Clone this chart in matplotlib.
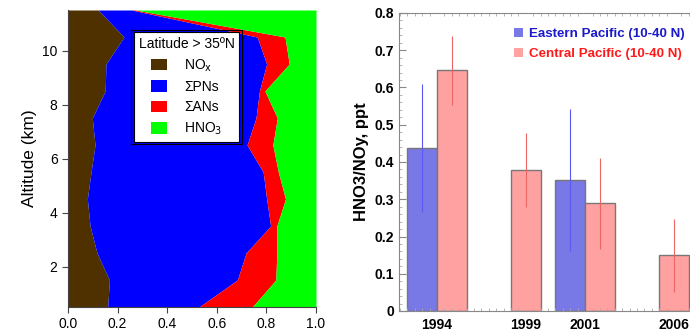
import numpy as np
import matplotlib.pyplot as plt
from matplotlib.patches import Patch, Rectangle
from matplotlib.ticker import MultipleLocator

plt.rcParams['font.family'] = ['Liberation Sans', 'DejaVu Sans']

# NOy partitioning profile, latitude > 35N (fractions of NOy)
altitude = [0.5, 1.5, 2.5, 3.5, 4.5, 5.5, 6.5, 7.5, 8.5, 9.5, 10.5, 11.5]
nox  = [0.160, 0.167, 0.117, 0.089, 0.078, 0.093, 0.109, 0.098, 0.150, 0.153, 0.226, 0.122]
pans = [0.368, 0.516, 0.601, 0.728, 0.723, 0.694, 0.613, 0.660, 0.622, 0.648, 0.537, 0.135]
ans  = [0.215, 0.155, 0.124, 0.025, 0.076, 0.061, 0.104, 0.086, 0.022, 0.091, 0.112, 0.015]
hno3 = [0.257, 0.162, 0.158, 0.158, 0.123, 0.152, 0.174, 0.156, 0.206, 0.108, 0.125, 0.728]

species = ['NO$_\\mathrm{x}$', '\u03a3PNs', '\u03a3ANs', 'HNO$_\\mathrm{3}$']
species_colors = ['#4f3100', '#0000ff', '#ff0000', '#00ff00']

# HNO3/NOy ratio by campaign year
years = ['1994', '1999', '2001', '2006']
eastern = [0.437, None, 0.352, None]
eastern_err = [0.172, None, 0.190, None]
central = [0.646, 0.378, 0.289, 0.149]
central_err = [0.092, 0.100, 0.122, 0.099]

fig = plt.figure(figsize=(6.9, 3.31), dpi=100)

# ---- left: stacked profile ----
ax1 = fig.add_axes([68/690, 24/331, 248/690, 297/331])
alt = np.array(altitude)
left = np.zeros(len(alt))
for vals, col in zip([nox, pans, ans, hno3], species_colors):
    right = left + np.array(vals)
    ax1.fill_betweenx(alt, left, right, color=col, lw=0)
    left = right
ax1.set_xlim(0, 1)
ax1.set_ylim(0.5, 11.5)
ax1.set_xticks(np.arange(0, 1.01, 0.2))
ax1.set_xticklabels(['%.1f' % v for v in np.arange(0, 1.01, 0.2)])
ax1.set_yticks([2, 4, 6, 8, 10])
ax1.tick_params(direction='out', length=4, color='#444444', labelsize=10)
for s in ['top', 'right']:
    ax1.spines[s].set_visible(False)
for s in ['left', 'bottom']:
    ax1.spines[s].set_color('#444444')
ax1.set_ylabel('Altitude (km)', fontsize=12.5)

handles = [Patch(facecolor=c, edgecolor='none') for c in species_colors]
leg = ax1.legend(handles, species, title='Latitude > 35\u00baN', loc='upper left',
                 bbox_to_anchor=(0.265, 0.925), fontsize=10, title_fontsize=10,
                 frameon=True, fancybox=False, framealpha=1, edgecolor='black',
                 handlelength=1.2, handleheight=0.9, handletextpad=1.2,
                 labelspacing=0.45, borderpad=0.35, borderaxespad=0)
leg.get_frame().set_linewidth(0.8)
leg._legend_box.align = 'center'
fig.canvas.draw()
bb = leg.get_window_extent().transformed(fig.transFigure.inverted())
pad = 2.5 / 690
fig.patches.append(Rectangle((bb.x0 - pad, bb.y0 - pad * 690 / 331),
                             bb.width + 2 * pad, bb.height + 2 * pad * 690 / 331,
                             transform=fig.transFigure, fill=False,
                             edgecolor='black', lw=0.8, zorder=10))

# ---- right: bar chart ----
ax2 = fig.add_axes([399/690, 20/331, 291/690, 298/331])
w = 0.5
year_pos = [0, 1.5, 2.5, 4.0]
east_col = (0.47, 0.47, 0.9)
cent_col = (1.0, 0.63, 0.63)
for i, x in enumerate(year_pos):
    if eastern[i] is not None:
        xe, xc = x - w / 2, x + w / 2
        ax2.bar(xe, eastern[i], width=w, color=east_col, edgecolor='#777777', lw=1)
        ax2.errorbar(xe, eastern[i], yerr=eastern_err[i], fmt='none',
                     ecolor=(0.35, 0.35, 0.95), elinewidth=0.8, capsize=0)
    else:
        xc = x
    ax2.bar(xc, central[i], width=w, color=cent_col, edgecolor='#777777', lw=1)
    ax2.errorbar(xc, central[i], yerr=central_err[i], fmt='none',
                 ecolor=(0.93, 0.4, 0.4), elinewidth=0.8, capsize=0)

ax2.set_xlim(-0.64, 4.27)
ax2.set_ylim(0, 0.8)
ax2.set_xticks(year_pos)
ax2.set_xticklabels(years, fontweight='bold', fontsize=10)
ax2.set_yticks(np.arange(0, 0.81, 0.1))
ax2.set_yticklabels(['0'] + ['%.1f' % v for v in np.arange(0.1, 0.81, 0.1)],
                    fontweight='bold', fontsize=10)
ax2.yaxis.set_minor_locator(MultipleLocator(0.02))
ax2.xaxis.set_minor_locator(MultipleLocator(0.125))
ax2.tick_params(axis='y', which='major', direction='in', length=5, color='#888888')
ax2.tick_params(axis='y', which='minor', direction='in', length=2.5, color='#aaaaaa')
ax2.tick_params(axis='x', which='major', length=0, pad=5)
ax2.tick_params(axis='x', which='minor', direction='in', length=2.5, color='#aaaaaa',
                top=True)
ax2.spines['right'].set_visible(False)
for s in ['top', 'left', 'bottom']:
    ax2.spines[s].set_color('#888888')
ax2.set_ylabel('HNO3/NOy, ppt', fontweight='bold', fontsize=12)

leg2 = ax2.legend([Patch(facecolor=east_col), Patch(facecolor=cent_col)],
                  ['Eastern Pacific (10-40 N)', 'Central Pacific (10-40 N)'],
                  loc='upper left', bbox_to_anchor=(0.395, 0.95), frameon=False,
                  prop={'weight': 'bold', 'size': 9.6}, handlelength=0.7,
                  handleheight=0.7, handletextpad=0.45, labelspacing=0.55,
                  borderpad=0, borderaxespad=0)
leg2.get_texts()[0].set_color((0.1, 0.1, 0.8))
leg2.get_texts()[1].set_color((1.0, 0.1, 0.1))

fig.savefig('out.png', dpi=100)
